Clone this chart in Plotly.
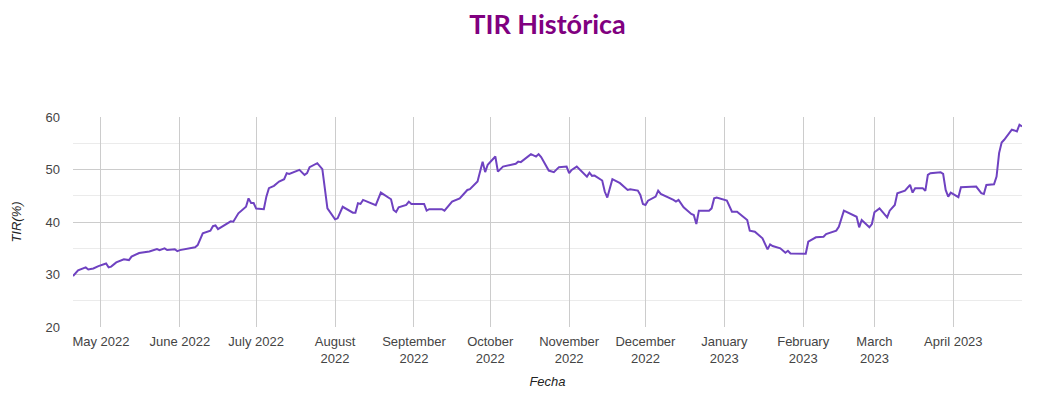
import plotly.graph_objects as go

dates = [
    "2022-04-20", "2022-04-22", "2022-04-25", "2022-04-26", "2022-04-28", "2022-04-30",
    "2022-05-03", "2022-05-04", "2022-05-05", "2022-05-07", "2022-05-10", "2022-05-12",
    "2022-05-13", "2022-05-16", "2022-05-20", "2022-05-23", "2022-05-24", "2022-05-26",
    "2022-05-27", "2022-05-30", "2022-05-31", "2022-06-01", "2022-06-07", "2022-06-08",
    "2022-06-10", "2022-06-13", "2022-06-14", "2022-06-15", "2022-06-16", "2022-06-21",
    "2022-06-22", "2022-06-24", "2022-06-27", "2022-06-28", "2022-06-29", "2022-06-30",
    "2022-07-01", "2022-07-04", "2022-07-05", "2022-07-06", "2022-07-08", "2022-07-10",
    "2022-07-12", "2022-07-13", "2022-07-14", "2022-07-16", "2022-07-18", "2022-07-20",
    "2022-07-21", "2022-07-22", "2022-07-25", "2022-07-27", "2022-07-29", "2022-08-01",
    "2022-08-02", "2022-08-04", "2022-08-08", "2022-08-09", "2022-08-10", "2022-08-11",
    "2022-08-12", "2022-08-17", "2022-08-19", "2022-08-23", "2022-08-24", "2022-08-25",
    "2022-08-26", "2022-08-29", "2022-08-30", "2022-08-31", "2022-09-05", "2022-09-06",
    "2022-09-07", "2022-09-12", "2022-09-13", "2022-09-16", "2022-09-19", "2022-09-22",
    "2022-09-23", "2022-09-26", "2022-09-28", "2022-09-29", "2022-09-30", "2022-10-03",
    "2022-10-04", "2022-10-06", "2022-10-11", "2022-10-12", "2022-10-13", "2022-10-17",
    "2022-10-19", "2022-10-20", "2022-10-21", "2022-10-24", "2022-10-26", "2022-10-28",
    "2022-10-31", "2022-11-01", "2022-11-02", "2022-11-04", "2022-11-08", "2022-11-09",
    "2022-11-10", "2022-11-11", "2022-11-14", "2022-11-15", "2022-11-16", "2022-11-18",
    "2022-11-21", "2022-11-24", "2022-11-25", "2022-11-28", "2022-11-29", "2022-11-30",
    "2022-12-01", "2022-12-02", "2022-12-05", "2022-12-06", "2022-12-07", "2022-12-12",
    "2022-12-13", "2022-12-14", "2022-12-16", "2022-12-19", "2022-12-20", "2022-12-21",
    "2022-12-22", "2022-12-26", "2022-12-27", "2022-12-28", "2022-12-29", "2023-01-02",
    "2023-01-04", "2023-01-06", "2023-01-10", "2023-01-11", "2023-01-13", "2023-01-16",
    "2023-01-18", "2023-01-19", "2023-01-20", "2023-01-23", "2023-01-25", "2023-01-26",
    "2023-01-27", "2023-02-02", "2023-02-03", "2023-02-06", "2023-02-09", "2023-02-10",
    "2023-02-14", "2023-02-15", "2023-02-17", "2023-02-22", "2023-02-23", "2023-02-24",
    "2023-02-27", "2023-02-28", "2023-03-01", "2023-03-03", "2023-03-06", "2023-03-07",
    "2023-03-09", "2023-03-10", "2023-03-13", "2023-03-15", "2023-03-16", "2023-03-17",
    "2023-03-20", "2023-03-21", "2023-03-22", "2023-03-23", "2023-03-27", "2023-03-28",
    "2023-03-29", "2023-03-30", "2023-03-31", "2023-04-03", "2023-04-04", "2023-04-10",
    "2023-04-12", "2023-04-13", "2023-04-14", "2023-04-17", "2023-04-18", "2023-04-19",
    "2023-04-20", "2023-04-21", "2023-04-24", "2023-04-25", "2023-04-26", "2023-04-27",
    "2023-04-28",
]

tir = [
    29.7, 30.8, 31.35, 30.96, 31.15, 31.6,
    32.1, 31.35, 31.5, 32.3, 32.9, 32.75,
    33.4, 34.1, 34.4, 34.85, 34.65, 34.97,
    34.65, 34.8, 34.45, 34.65, 35.2, 35.6,
    37.84, 38.35, 39.2, 39.35, 38.65, 40.13,
    40.06, 41.66, 42.9, 44.5, 43.6, 43.6,
    42.55, 42.43, 44.83, 46.44, 46.88, 47.7,
    48.15, 49.3, 49.17, 49.55, 49.93, 48.98,
    49.3, 50.45, 51.2, 50.07, 42.6, 40.5,
    40.7, 42.9, 41.78, 41.78, 43.57, 43.44,
    44.2, 43.2, 45.6, 44.33, 42.3, 41.9,
    42.8, 43.25, 43.88, 43.44, 43.44, 42.16,
    42.43, 42.43, 42.16, 43.88, 44.5, 46.1,
    46.25, 47.7, 51.5, 49.5, 50.9, 52.47,
    49.6, 50.56, 51.08, 51.5, 51.4, 52.93,
    52.47, 52.93, 52.36, 49.8, 49.5, 50.45,
    50.56, 49.3, 49.93, 50.56, 48.65, 49.4,
    48.79, 48.85, 47.9, 45.8, 44.65, 48.15,
    47.4, 46.1, 46.25, 45.98, 45.16, 43.44,
    43.25, 44.07, 44.83, 45.98, 45.35, 44.2,
    43.88, 44.2, 42.8, 41.53, 41.34, 39.62,
    42.16, 42.16, 42.6, 44.5, 44.65, 44.07,
    41.97, 41.97, 40.38, 38.35, 38.15, 36.89,
    34.78, 35.74, 35.42, 34.98, 34.14, 34.52,
    34.02, 33.95, 36.24, 37.08, 37.2, 37.71,
    38.35, 39.1, 42.16, 41.0, 38.99, 40.38,
    38.99, 39.62, 41.85, 42.6, 40.9, 42.16,
    43.25, 45.48, 45.98, 47.07, 45.6, 46.44,
    46.44, 45.92, 48.98, 49.3, 49.49, 49.17,
    46.1, 44.83, 45.6, 44.72, 46.63, 46.75,
    45.48, 45.35, 47.07, 47.2, 48.65, 53.12,
    55.15, 55.66, 57.57, 57.44, 57.25, 58.53,
    58.2,
]

month_ticks = [
    "2022-05-01", "2022-06-01", "2022-07-01", "2022-08-01", "2022-09-01", "2022-10-01",
    "2022-11-01", "2022-12-01", "2023-01-01", "2023-02-01", "2023-03-01", "2023-04-01",
]
month_labels = [
    "May 2022", "June 2022", "July 2022", "August<br>2022", "September<br>2022",
    "October<br>2022", "November<br>2022", "December<br>2022", "January<br>2023",
    "February<br>2023", "March<br>2023", "April 2023",
]
y_ticks = [20, 30, 40, 50, 60]
y_minor = [25, 35, 45, 55]

fig = go.Figure()
fig.add_trace(go.Scatter(
    x=dates, y=tir, mode="lines",
    line=dict(color="#6f42c1", width=2),
    name="TIR", showlegend=False,
))

fig.update_layout(
    width=1045, height=389,
    margin=dict(l=65, r=31, t=109, b=70),
    paper_bgcolor="white", plot_bgcolor="white",
    title=dict(
        text="TIR Histórica", x=0.5, xanchor="center", xref="paper",
        y=0.958, yanchor="middle",
        font=dict(family="Lato", size=27, color="#800080", weight="bold"),
    ),
    font=dict(family="Liberation Sans, Arial", size=13, color="#444444"),
    xaxis=dict(
        range=[dates[0], dates[-1]],
        tickvals=month_ticks, ticktext=month_labels,
        showgrid=True, gridcolor="#cccccc", gridwidth=1,
        zeroline=False, showline=False, ticks="",
        ticklabelstandoff=5, automargin=False,
        tickfont=dict(size=13, color="#444444"),
        title=dict(text="Fecha", font=dict(size=13, color="#222222", style="italic"), standoff=11),
    ),
    yaxis=dict(
        range=[20, 60], tickvals=y_ticks,
        showgrid=True, gridcolor="#cccccc", gridwidth=1,
        zeroline=False, showline=False, ticks="",
        ticklabelstandoff=12, automargin=False,
        minor=dict(tickvals=y_minor, showgrid=True, gridcolor="#ebebeb"),
        tickfont=dict(size=13, color="#444444"),
        title=dict(text="TIR(%)", font=dict(size=13, color="#222222", style="italic"), standoff=20),
    ),
)

fig.write_html("out.html")
